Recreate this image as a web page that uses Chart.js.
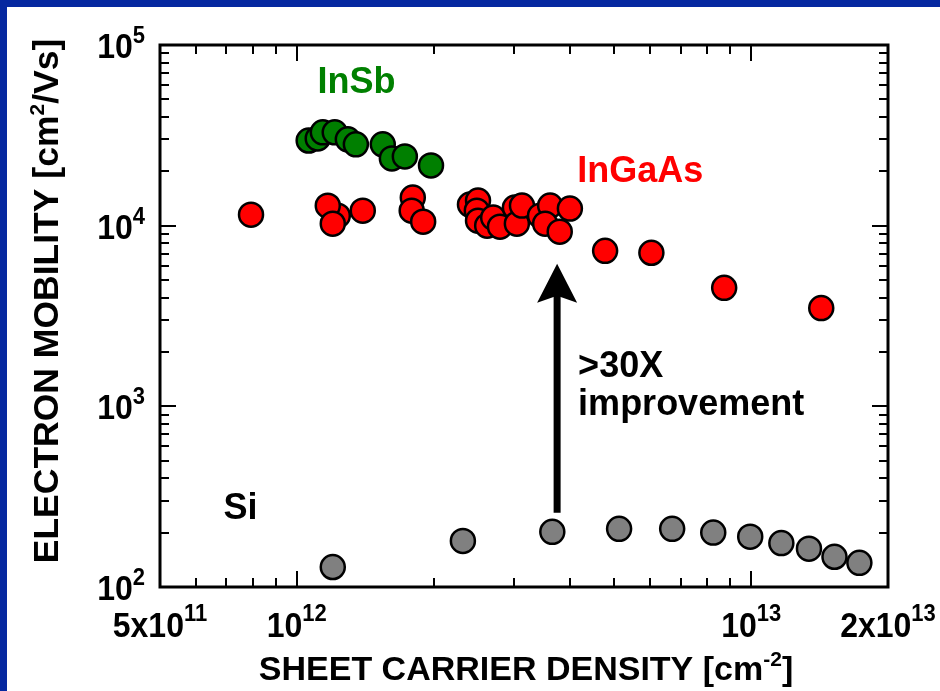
<!DOCTYPE html>
<html lang="en">
<head>
<meta charset="UTF-8">
<title>Electron mobility vs sheet carrier density</title>
<script src="https://cdn.jsdelivr.net/npm/chart.js@4"></script>
<style>
  html, body { margin: 0; padding: 0; background: #ffffff; }
  #wrap { width: 940px; height: 691px; }
</style>
</head>
<body>
<div id="wrap"><canvas id="chart" width="940" height="691"></canvas></div>
<script>
// values: sheet carrier density [cm^-2] / electron mobility [cm^2/Vs]
const siDensity = [1.20e12, 2.32e12, 3.65e12, 5.12e12, 6.70e12, 8.25e12, 9.95e12, 1.165e13, 1.34e13, 1.525e13, 1.73e13];
const siMobility = [129, 180, 202, 210, 210, 200, 190, 175, 163, 147, 136];

const insbDensity = [1.062e12, 1.112e12, 1.141e12, 1.212e12, 1.295e12, 1.349e12, 1.546e12, 1.619e12, 1.729e12, 1.974e12];
const insbMobility = [29600, 30400, 32850, 32850, 30050, 28200, 28200, 23560, 24170, 21540];

const ingaasDensity = [7.93e11, 1.231e12, 1.17e12, 1.20e12, 1.397e12, 1.80e12, 1.79e12, 1.897e12,
  2.405e12, 2.505e12, 2.49e12, 2.505e12, 2.624e12, 2.705e12, 2.80e12, 3.02e12, 3.05e12, 3.13e12,
  3.43e12, 3.61e12, 3.99e12, 3.52e12, 3.79e12, 4.77e12, 6.03e12, 8.72e12, 1.426e13];
const ingaasMobility = [11510, 11360, 12900, 10260, 12110, 14310, 12110, 10520,
  13080, 13770, 12110, 10660, 10000, 11080, 9870, 12590, 10260, 12920,
  11360, 12920, 12430, 10260, 9260, 7260, 7080, 4530, 3500];

// axes
const xMin = 5e11, xMax = 2e13;
const yMin = 1e2, yMax = 1e5;
const xLabelValues = [5e11, 1e12, 1e13, 2e13];
const xLabelBase = ['5x10', '10', '10', '2x10'];
const xLabelExp = ['11', '12', '13', '13'];
const yLabelValues = [1e2, 1e3, 1e4, 1e5];
const yLabelBase = ['10', '10', '10', '10'];
const yLabelExp = ['2', '3', '4', '5'];

const FONT = '"Liberation Sans", Arial, sans-serif';

function toPoints(xs, ys) {
  return xs.map((x, i) => ({ x: x, y: ys[i] }));
}

// minor/major tick values for a log axis
function logTicks(min, max) {
  const out = [];
  for (let e = Math.floor(Math.log10(min)); e <= Math.ceil(Math.log10(max)); e++) {
    for (let k = 1; k <= 9; k++) {
      const v = k * Math.pow(10, e);
      if (v >= min * 0.999 && v <= max * 1.001) out.push({ v: v, major: k === 1 });
    }
  }
  return out;
}

// text with superscripts: pieces = [[text, isSup], ...]; sy stretches glyphs vertically
function drawPieces(ctx, pieces, x, y, align, size, supSize, rise, sy) {
  sy = sy || 1;
  let total = 0;
  const widths = pieces.map(p => {
    ctx.font = 'bold ' + (p[1] ? supSize : size) + 'px ' + FONT;
    const w = ctx.measureText(p[0]).width;
    total += w;
    return w;
  });
  let cx = align === 'center' ? x - total / 2 : (align === 'right' ? x - total : x);
  ctx.textAlign = 'left';
  ctx.textBaseline = 'alphabetic';
  pieces.forEach((p, i) => {
    ctx.font = 'bold ' + (p[1] ? supSize : size) + 'px ' + FONT;
    ctx.save();
    ctx.translate(cx, p[1] ? y - rise : y);
    ctx.scale(1, sy);
    ctx.fillText(p[0], 0, 0);
    ctx.restore();
    cx += widths[i];
  });
}

const framePlugin = {
  id: 'frame',
  beforeDraw(chart) {
    const ctx = chart.ctx;
    ctx.save();
    ctx.fillStyle = '#0628a0';
    ctx.fillRect(0, 0, chart.width, chart.height);
    ctx.fillStyle = '#ffffff';
    ctx.fillRect(7, 7, chart.width - 7, chart.height - 7);
    ctx.restore();
  },
  beforeDatasetsDraw(chart) {
    const ctx = chart.ctx;
    const a = chart.chartArea;
    const xs = chart.scales.x, ys = chart.scales.y;
    ctx.save();
    ctx.strokeStyle = '#000000';
    ctx.lineWidth = 2;
    logTicks(xMin, xMax).forEach(t => {
      const px = Math.round(xs.getPixelForValue(t.v));
      const len = t.major ? 16 : 9;
      ctx.beginPath();
      ctx.moveTo(px, a.bottom); ctx.lineTo(px, a.bottom - len);
      ctx.moveTo(px, a.top); ctx.lineTo(px, a.top + len);
      ctx.stroke();
    });
    logTicks(yMin, yMax).forEach(t => {
      const py = Math.round(ys.getPixelForValue(t.v));
      const len = t.major ? 16 : 9;
      ctx.beginPath();
      ctx.moveTo(a.left, py); ctx.lineTo(a.left + len, py);
      ctx.moveTo(a.right, py); ctx.lineTo(a.right - len, py);
      ctx.stroke();
    });
    ctx.lineWidth = 3;
    ctx.strokeRect(a.left, a.top, a.right - a.left, a.bottom - a.top);

    // tick labels
    ctx.fillStyle = '#000000';
    xLabelValues.forEach((v, i) => {
      drawPieces(ctx, [[xLabelBase[i], false], [xLabelExp[i], true]],
        xs.getPixelForValue(v), a.bottom + 50, 'center', 32, 22, 16, 1.12);
    });
    yLabelValues.forEach((v, i) => {
      drawPieces(ctx, [[yLabelBase[i], false], [yLabelExp[i], true]],
        a.left - 15, ys.getPixelForValue(v) + 13, 'right', 32, 22, 15, 1.12);
    });

    // axis titles
    drawPieces(ctx, [['SHEET CARRIER DENSITY [cm', false], ['-2', true], [']', false]],
      526, 680, 'center', 34, 21, 14);
    ctx.translate(58, 301);
    ctx.rotate(-Math.PI / 2);
    drawPieces(ctx, [['ELECTRON MOBILITY [cm', false], ['2', true], ['/Vs]', false]],
      0, 0, 'center', 35.5, 21, 14);
    ctx.restore();
  },
  afterDatasetsDraw(chart) {
    const ctx = chart.ctx;
    const xs = chart.scales.x, ys = chart.scales.y;
    ctx.save();
    // improvement arrow
    const ax = xs.getPixelForValue(3.74e12);
    const y0 = ys.getPixelForValue(258), y1 = ys.getPixelForValue(6150);
    ctx.strokeStyle = '#000000';
    ctx.fillStyle = '#000000';
    ctx.lineWidth = 7;
    ctx.beginPath();
    ctx.moveTo(ax, y0); ctx.lineTo(ax, y1 + 30);
    ctx.stroke();
    ctx.beginPath();
    ctx.moveTo(ax, y1);
    ctx.lineTo(ax - 20, y1 + 39);
    ctx.lineTo(ax, y1 + 32);
    ctx.lineTo(ax + 20, y1 + 39);
    ctx.closePath();
    ctx.fill();

    // series labels and note
    const notes = [
      { text: 'InSb', x: 1.11e12, y: 54100, color: '#008000' },
      { text: 'InGaAs', x: 4.14e12, y: 17350, color: '#ff0000' },
      { text: 'Si', x: 6.9e11, y: 239, color: '#000000' },
      { text: '>30X', x: 4.16e12, y: 1450, color: '#000000' },
      { text: 'improvement', x: 4.16e12, y: 891, color: '#000000' }
    ];
    notes.forEach(n => {
      ctx.fillStyle = n.color;
      drawPieces(ctx, [[n.text, false]], xs.getPixelForValue(n.x), ys.getPixelForValue(n.y), 'left', 36, 20, 14);
    });
    ctx.restore();
  }
};

const pointStyle = (color) => ({
  backgroundColor: color,
  borderColor: '#000000',
  borderWidth: 2.5,
  pointRadius: 12,
  pointHoverRadius: 12
});

new Chart(document.getElementById('chart'), {
  type: 'scatter',
  data: {
    datasets: [
      Object.assign({ label: 'Si', data: toPoints(siDensity, siMobility) }, pointStyle('#808080')),
      Object.assign({ label: 'InSb', data: toPoints(insbDensity, insbMobility) }, pointStyle('#007f00')),
      Object.assign({ label: 'InGaAs', data: toPoints(ingaasDensity, ingaasMobility) }, pointStyle('#ff0000'))
    ]
  },
  options: {
    responsive: false,
    animation: false,
    layout: { padding: { left: 160, right: 52, top: 45, bottom: 104 } },
    plugins: { legend: { display: false }, tooltip: { enabled: false } },
    scales: {
      x: { type: 'logarithmic', min: xMin, max: xMax, display: false },
      y: { type: 'logarithmic', min: yMin, max: yMax, display: false }
    }
  },
  plugins: [framePlugin]
});
</script>
</body>
</html>
